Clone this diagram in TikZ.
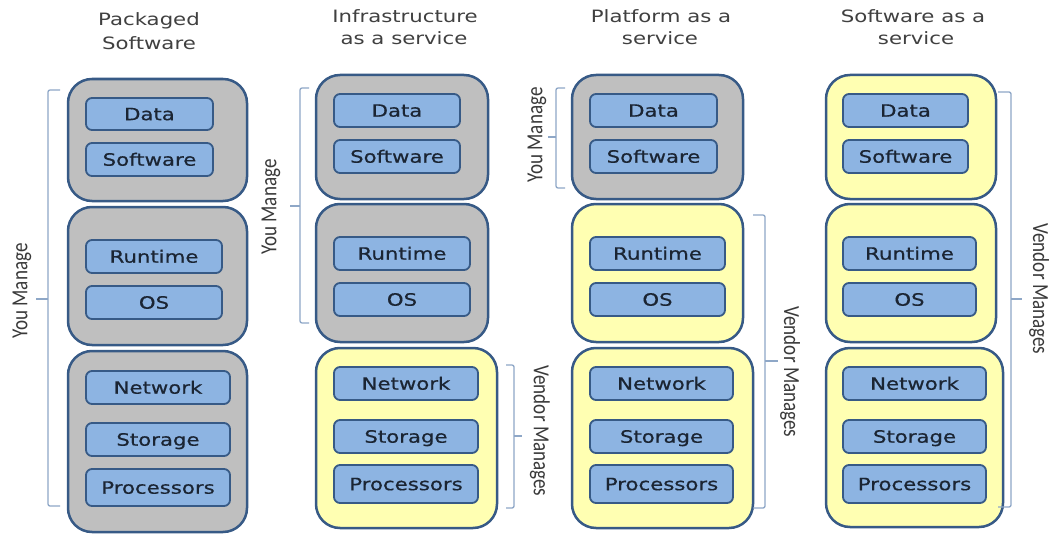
\documentclass[tikz,border=0pt]{standalone}
\usepackage{fontspec}
\newfontfamily\boxfont[FakeStretch=1.25]{DejaVu Sans}
\newfontfamily\lblfont[FakeStretch=1.25,FakeBold=0.6]{DejaVu Sans}
\newfontfamily\sidefont[FakeStretch=0.83]{Carlito}
\definecolor{grayfill}{HTML}{BFBFBF}
\definecolor{yellowfill}{HTML}{FFFFB2}
\definecolor{bluefill}{HTML}{8DB4E2}
\definecolor{boxline}{HTML}{375A86}
\definecolor{brackcol}{HTML}{8EA7C7}
\definecolor{labeltext}{HTML}{1B2533}
\definecolor{titletext}{HTML}{404040}
\definecolor{sidetext}{HTML}{3A3A3A}
\tikzset{
  outerbox/.style={draw=boxline, line width=2.5pt, rounded corners=24pt, inner sep=0pt},
  graybox/.style={outerbox, fill=grayfill},
  yellowbox/.style={outerbox, fill=yellowfill},
  innerbox/.style={draw=boxline, line width=1.8pt, fill=bluefill, rounded corners=6pt,
    inner sep=0pt, font=\lblfont\fontsize{17}{17}\selectfont, text=labeltext,
    text height=12.4pt, text depth=0pt},
  titletxt/.style={font=\boxfont\fontsize{17}{17}\selectfont, text=titletext, anchor=base, inner sep=0pt},
  sidetxt/.style={font=\sidefont\fontsize{23}{23}\selectfont, text=sidetext, inner sep=0pt},
  brk/.style={draw=brackcol, line width=1.3pt, rounded corners=2pt}
}
\newcommand\mkouter[6]{\node[#1, minimum width={#4-#2}, minimum height={#5-#3}] (#6) at ({(#2+#4)/2},{(#3+#5)/2}) {};}
\newcommand\mkinner[6]{\node[innerbox, minimum width={#3-#1}, minimum height={#4-#2}] (#5) at ({(#1+#3)/2},{(#2+#4)/2}) {#6};}
\newcommand\lbrk[7]{%
  \coordinate (#1t) at ({#2+#6},#3); \coordinate (#1b) at ({#2+#6},#4); \coordinate (#1m) at ({#2-#7},#5);
  \draw[brk] (#1t) -- (#2,#3) -- (#2,#4) -- (#1b);
  \draw[brk] (#2,#5) -- (#1m);}
\newcommand\rbrk[7]{%
  \coordinate (#1t) at ({#2-#6},#3); \coordinate (#1b) at ({#2-#6},#4); \coordinate (#1m) at ({#2+#7},#5);
  \draw[brk] (#1t) -- (#2,#3) -- (#2,#4) -- (#1b);
  \draw[brk] (#2,#5) -- (#1m);}
\begin{document}
\begin{tikzpicture}[x=1pt,y=-1pt]
\fill[white] (0,0) rectangle (1052,535);
\useasboundingbox (0,0) rectangle (1052,535);

% titles
\node[titletxt] (t1a) at (149,26) {Packaged};
\node[titletxt] (t1b) at (149,49) {Software};
\node[titletxt] (t2a) at (405,23) {Infrastructure};
\node[titletxt] (t2b) at (404,45) {as a service};
\node[titletxt] (t3a) at (661,23) {Platform as a};
\node[titletxt] (t3b) at (660,45) {service};
\node[titletxt] (t4a) at (913,23) {Software as a};
\node[titletxt] (t4b) at (916,45) {service};

% column 1: packaged software
\mkouter{graybox}{68}{79}{247}{201}{pa}
\mkouter{graybox}{68}{207}{247}{345}{pb}
\mkouter{graybox}{68}{351}{247}{532}{pc}
\mkinner{86}{98}{213}{130}{pdata}{Data}
\mkinner{86}{143}{213}{176}{psoft}{Software}
\mkinner{86}{240}{222}{273}{prun}{Runtime}
\mkinner{86}{286}{222}{319}{pos}{OS}
\mkinner{86}{371}{230}{404}{pnet}{Network}
\mkinner{86}{423}{230}{456}{psto}{Storage}
\mkinner{86}{469}{230}{506}{pproc}{Processors}

% column 2: IaaS
\mkouter{graybox}{316}{75}{488}{199}{ia}
\mkouter{graybox}{316}{204}{488}{342}{ib}
\mkouter{yellowbox}{316}{348}{497}{528}{ic}
\mkinner{334}{94}{460}{127}{idata}{Data}
\mkinner{334}{140}{460}{173}{isoft}{Software}
\mkinner{334}{237}{470}{270}{irun}{Runtime}
\mkinner{334}{283}{470}{316}{ios}{OS}
\mkinner{334}{367}{478}{400}{inet}{Network}
\mkinner{334}{420}{478}{453}{isto}{Storage}
\mkinner{334}{465}{478}{503}{iproc}{Processors}

% column 3: PaaS
\mkouter{graybox}{572}{75}{743}{199}{la}
\mkouter{yellowbox}{572}{204}{743}{342}{lb}
\mkouter{yellowbox}{572}{348}{753}{528}{lc}
\mkinner{590}{94}{717}{127}{ldata}{Data}
\mkinner{590}{140}{717}{173}{lsoft}{Software}
\mkinner{590}{237}{725}{270}{lrun}{Runtime}
\mkinner{590}{283}{725}{316}{los}{OS}
\mkinner{590}{367}{733}{400}{lnet}{Network}
\mkinner{590}{420}{733}{453}{lsto}{Storage}
\mkinner{590}{465}{733}{503}{lproc}{Processors}

% column 4: SaaS
\mkouter{yellowbox}{826}{75}{996}{199}{sa}
\mkouter{yellowbox}{826}{204}{996}{342}{sb}
\mkouter{yellowbox}{826}{348}{1003}{527}{sc}
\mkinner{843}{94}{968}{127}{sdata}{Data}
\mkinner{843}{140}{968}{173}{ssoft}{Software}
\mkinner{843}{237}{976}{270}{srun}{Runtime}
\mkinner{843}{283}{976}{316}{sos}{OS}
\mkinner{843}{367}{986}{400}{snet}{Network}
\mkinner{843}{420}{986}{453}{ssto}{Storage}
\mkinner{843}{465}{986}{503}{sproc}{Processors}

% brackets
\lbrk{bp}{48}{90}{506}{299}{12}{12}
\lbrk{bi}{300}{88}{323}{206}{9}{10}
\lbrk{bl}{556}{88}{188}{137}{9}{8}
\rbrk{bv}{514}{365}{508}{436}{8}{8}
\rbrk{bw}{765}{215}{508}{361}{12}{13}
\rbrk{bs}{1011}{92}{507}{299}{13}{11}

% side labels
\node[sidetxt, rotate=90] (yp) at (22,291) {You Manage};
\node[sidetxt, rotate=90] (yi) at (271,207) {You Manage};
\node[sidetxt, rotate=90] (yl) at (537,135) {You Manage};
\node[sidetxt, rotate=-90] (vi) at (540,431) {Vendor Manages};
\node[sidetxt, rotate=-90] (vl) at (790,372) {Vendor Manages};
\node[sidetxt, rotate=-90] (vs) at (1039,289) {Vendor Manages};
\end{tikzpicture}
\end{document}
